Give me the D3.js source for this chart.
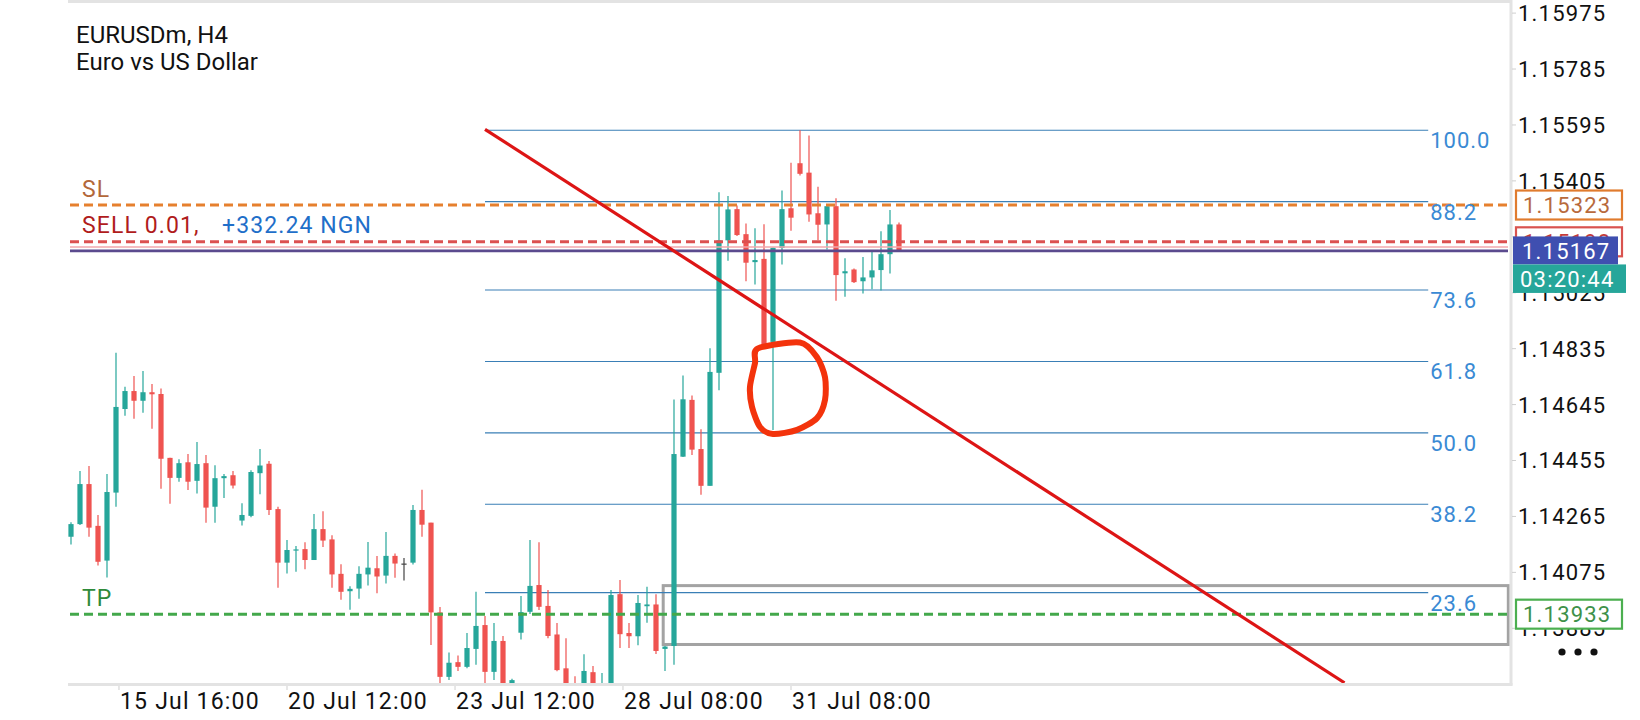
<!DOCTYPE html>
<html><head><meta charset="utf-8">
<script src="https://cdn.jsdelivr.net/npm/d3@7"></script>
<style>
body{margin:0;background:#fff}
svg{display:block}
text{font-family:Roboto,"Noto Sans",sans-serif}
</style>
</head><body>
<svg id="c" width="1640" height="720"></svg>
<script>
// ---- data (H4 bars, index 0..92) ----
const opens  = [1.14196,1.14239,1.14375,1.14233,1.14115,1.14346,1.14630,1.14691,1.14658,1.14687,
1.14681,1.14464,1.14396,1.14449,1.14386,1.14446,1.14298,1.14395,1.14405,1.14251,
1.14267,1.14412,1.14444,1.14290,1.14108,1.14150,1.14154,1.14117,1.14222,1.14187,
1.14070,1.14011,1.14020,1.14068,1.14089,1.14064,1.14131,1.14105,1.14108,1.14287,
1.14244,1.13939,1.13720,1.13770,1.13754,1.13815,1.13896,1.13737,1.13842,1.13641,
1.13870,1.13941,1.14032,1.13961,1.13864,1.13749,1.13675,1.13641,1.13736,1.13624,
1.13661,1.14001,1.13869,1.13858,1.13960,1.13966,1.13815,1.13825,1.14468,1.14661,
1.14494,1.14369,1.14753,1.15203,1.15309,1.15224,1.15129,1.15140,1.14858,1.15177,
1.15312,1.15465,1.15433,1.15295,1.15257,1.15319,1.15091,1.15104,1.15064,1.15077,
1.15102,1.15156,1.15257];
const highs  = [1.14245,1.14419,1.14436,1.14270,1.14409,1.14821,1.14706,1.14742,1.14759,1.14715,
1.14700,1.14464,1.14459,1.14477,1.14518,1.14474,1.14439,1.14409,1.14419,1.14310,
1.14422,1.14494,1.14453,1.14298,1.14185,1.14165,1.14177,1.14273,1.14283,1.14201,
1.14103,1.14028,1.14096,1.14178,1.14131,1.14212,1.14139,1.14124,1.14304,1.14356,
1.14244,1.13957,1.13803,1.13793,1.13869,1.14009,1.13927,1.13903,1.13859,1.13714,
1.13995,1.14185,1.14177,1.14015,1.13903,1.13851,1.13722,1.13797,1.13757,1.13733,
1.14015,1.14049,1.13903,1.13998,1.14026,1.14001,1.13825,1.14662,1.14744,1.14676,
1.14561,1.14836,1.15366,1.15354,1.15321,1.15260,1.15244,1.15258,1.15179,1.15372,
1.15467,1.15577,1.15559,1.15385,1.15323,1.15346,1.15142,1.15107,1.15146,1.15170,
1.15234,1.15306,1.15264];
const lows   = [1.14170,1.14236,1.14196,1.14098,1.14058,1.14298,1.14607,1.14597,1.14617,1.14563,
1.14359,1.14308,1.14383,1.14355,1.14343,1.14244,1.14244,1.14328,1.14360,1.14234,
1.14262,1.14340,1.14270,1.14023,1.14071,1.14077,1.14086,1.14117,1.14161,1.14023,
1.13982,1.13948,1.13985,1.14030,1.14004,1.14037,1.14057,1.14047,1.14102,1.14196,
1.13828,1.13689,1.13709,1.13740,1.13749,1.13761,1.13521,1.13709,1.13662,1.13624,
1.13847,1.13934,1.13947,1.13851,1.13739,1.13641,1.13600,1.13624,1.13624,1.13600,
1.13641,1.13818,1.13818,1.13827,1.13904,1.13798,1.13740,1.13761,1.14467,1.14474,
1.14339,1.14369,1.14694,1.15134,1.15218,1.15064,1.15053,1.14846,1.14559,1.15121,
1.15236,1.15423,1.15266,1.15203,1.15172,1.14998,1.15011,1.15058,1.15022,1.15037,
1.15033,1.15090,1.15165];
const closes = [1.14239,1.14375,1.14227,1.14111,1.14348,1.14637,1.14691,1.14658,1.14687,1.14680,
1.14461,1.14396,1.14446,1.14383,1.14443,1.14295,1.14395,1.14402,1.14370,1.14270,
1.14416,1.14438,1.14287,1.14108,1.14151,1.14153,1.14117,1.14222,1.14183,1.14068,
1.14009,1.14019,1.14070,1.14091,1.14061,1.14131,1.14105,1.14105,1.14287,1.14237,
1.13939,1.13720,1.13768,1.13754,1.13818,1.13893,1.13737,1.13842,1.13689,1.13709,
1.13940,1.14029,1.13958,1.13859,1.13743,1.13661,1.13624,1.13740,1.13641,1.13675,
1.13998,1.13865,1.13858,1.13971,1.13966,1.13808,1.13823,1.14477,1.14663,1.14492,
1.14369,1.14756,1.15203,1.15308,1.15221,1.15127,1.15136,1.14846,1.15178,1.15309,
1.15280,1.15429,1.15291,1.15256,1.15319,1.15085,1.15098,1.15061,1.15077,1.15101,
1.15156,1.15257,1.15167];

const priceTicks = [1.15975,1.15785,1.15595,1.15405,1.15215,1.15025,1.14835,1.14645,1.14455,1.14265,1.14075,1.13885];
const timeLabels = ["15 Jul 16:00","20 Jul 12:00","23 Jul 12:00","28 Jul 08:00","31 Jul 08:00"];
const timeLabelBars = [5.33, 24, 42.67, 61.33, 80];

const fibLevels = [0, 23.6, 38.2, 50.0, 61.8, 73.6, 88.2, 100.0];
const fibLow = 1.13521, fibHigh = 1.15577;
const fibBars = [46, 150.8];

const slPrice = 1.15323, tpPrice = 1.13933, entryPrice = 1.15198;
const bidPrice = 1.15167, askPrice = 1.15180;
const countdown = "03:20:44";
const orderText = "SELL 0.01,", profitText = "+332.24 NGN";

const trendBars = [46, 141.5], trendPrices = [1.15580, 1.13700];
const zoneBars = [65.8, 159.7], zonePrices = [1.14030, 1.13830];
const circleBars   = [76.33, 81.0, 82.89, 83.78, 83.78, 82.89, 80.67, 78.0, 76.56, 75.67, 75.44, 76.0];
const circlePrices = [1.14836,1.14856,1.14806,1.14738,1.14661,1.14599,1.14559,1.14545,1.14569,1.14637,1.14705,1.14786];

// ---- layout ----
const P = {left:68, right:1511, top:3, bottom:684};
const x = d3.scaleLinear().domain([0,160]).range([71,1511]);
const y = d3.scaleLinear().domain([1.13885,1.15975]).range([628.3,13.1]);

const svg = d3.select("#c");
svg.append("rect").attr("width",1640).attr("height",720).attr("fill","#fff");
svg.append("defs").append("clipPath").attr("id","clip")
  .append("rect").attr("x",P.left).attr("y",P.top).attr("width",P.right-P.left).attr("height",P.bottom-P.top);

const plot = svg.append("g").attr("clip-path","url(#clip)");

// zone rectangle
plot.append("rect")
  .attr("x",x(zoneBars[0])).attr("y",y(zonePrices[0]))
  .attr("width",x(zoneBars[1])-x(zoneBars[0])).attr("height",y(zonePrices[1])-y(zonePrices[0]))
  .attr("fill","none").attr("stroke","#a3a3a3").attr("stroke-width",3);

// fib lines
const fibPrice = l => fibLow + (fibHigh-fibLow)*l/100;
plot.selectAll(".fib").data(fibLevels).join("line")
  .attr("x1",x(fibBars[0])).attr("x2",x(fibBars[1]))
  .attr("y1",d=>y(fibPrice(d))).attr("y2",d=>y(fibPrice(d)))
  .attr("stroke","#3a7fb6").attr("stroke-width",1.1);

// candles
const bars = d3.range(opens.length).map(i=>({i,o:opens[i],h:highs[i],l:lows[i],c:closes[i]}));
const col = d => d.c>d.o ? "#26a69a" : (d.c<d.o ? "#ef5350" : "#444");
const cg = plot.append("g");
cg.selectAll(".w").data(bars).join("line")
  .attr("x1",d=>x(d.i)).attr("x2",d=>x(d.i))
  .attr("y1",d=>y(d.h)).attr("y2",d=>y(d.l))
  .attr("stroke",col).attr("stroke-width",1.2);
cg.selectAll(".b").data(bars).join("rect")
  .attr("x",d=>x(d.i)-2.6).attr("width",5.2)
  .attr("y",d=>y(Math.max(d.o,d.c)))
  .attr("height",d=>Math.max(1.2, Math.abs(y(d.o)-y(d.c))))
  .attr("fill",col);

// trade lines
function hline(price,color,w,dash){
  plot.append("line").attr("x1",P.left+2).attr("x2",P.right-3)
    .attr("y1",y(price)).attr("y2",y(price))
    .attr("stroke",color).attr("stroke-width",w)
    .attr("stroke-dasharray",dash||null);
}
hline(askPrice,"#f2a7ad",1.5);
hline(bidPrice,"#5b4b8e",2.8);
hline(slPrice,"#e6802e",3,"9,5");
hline(entryPrice,"#dc5050",3,"9,5");
hline(tpPrice,"#43a84b",3,"9,5");

// trend line
plot.append("line")
  .attr("x1",x(trendBars[0])).attr("y1",y(trendPrices[0]))
  .attr("x2",x(trendBars[1])).attr("y2",y(trendPrices[1]))
  .attr("stroke","#dd1515").attr("stroke-width",3.2);

// hand-drawn circle
const cpts = circleBars.map((b,k)=>[x(b),y(circlePrices[k])]);
plot.append("path").attr("d",d3.line().curve(d3.curveCardinalClosed.tension(0.2))(cpts))
  .attr("fill","none").attr("stroke","#f3330c").attr("stroke-width",6).attr("stroke-linecap","round");

// fib labels
svg.selectAll(".fl").data(fibLevels.filter(l=>y(fibPrice(l))<P.bottom)).join("text")
  .attr("x",x(fibBars[1])+2).attr("y",d=>y(fibPrice(d))+18)
  .attr("fill","#3a8ad4").attr("font-size",22).style("letter-spacing","1px")
  .text(d=>d.toFixed(1));

// frame
const frame = svg.append("g").attr("stroke","#e3e3e3").attr("stroke-width",3);
frame.append("line").attr("x1",P.left).attr("x2",P.right).attr("y1",1.5).attr("y2",1.5);
frame.append("line").attr("x1",P.right).attr("x2",P.right).attr("y1",0).attr("y2",P.bottom+1.5);
frame.append("line").attr("x1",P.left).attr("x2",P.right+1.5).attr("y1",P.bottom+0.5).attr("y2",P.bottom+0.5);

// price axis
svg.selectAll(".pt").data(priceTicks).join("line")
  .attr("x1",P.right+1).attr("x2",P.right+5).attr("y1",d=>y(d)).attr("y2",d=>y(d))
  .attr("stroke","#cfcfcf").attr("stroke-width",1);
svg.selectAll(".pl").data(priceTicks).join("text")
  .attr("x",1518).attr("y",d=>y(d)).attr("dy","0.36em")
  .attr("font-size",22).style("letter-spacing","1.2px").attr("fill","#111")
  .text(d=>d.toFixed(5));

// time axis
svg.selectAll(".tt").data(timeLabelBars).join("line")
  .attr("x1",d=>x(d)).attr("x2",d=>x(d)).attr("y1",P.bottom+2).attr("y2",P.bottom+6)
  .attr("stroke","#cfcfcf").attr("stroke-width",1);
svg.selectAll(".tl").data(timeLabels).join("text")
  .attr("x",(d,k)=>x(timeLabelBars[k])+1).attr("y",709)
  .attr("font-size",23).style("letter-spacing","1.2px").attr("fill","#111")
  .text(d=>d);

// title
svg.append("text").attr("x",76).attr("y",43).attr("font-size",23).attr("fill","#111")
  .attr("textLength",152).attr("lengthAdjust","spacingAndGlyphs").text("EURUSDm, H4");
svg.append("text").attr("x",76).attr("y",70).attr("font-size",23).attr("fill","#111")
  .attr("textLength",182).attr("lengthAdjust","spacingAndGlyphs").text("Euro vs US Dollar");

// line labels
svg.append("text").attr("x",82).attr("y",y(slPrice)-8).attr("font-size",23).attr("fill","#b3683a")
  .style("letter-spacing","1px").text("SL");
svg.append("text").attr("x",82).attr("y",y(tpPrice)-8).attr("font-size",23).attr("fill","#2f8a3a")
  .style("letter-spacing","1px").text("TP");
svg.append("text").attr("x",82).attr("y",y(entryPrice)-9).attr("font-size",23).attr("fill","#b01c1c")
  .style("letter-spacing","1.1px").text(orderText);
svg.append("text").attr("x",222).attr("y",y(entryPrice)-9).attr("font-size",23).attr("fill","#1f6fc9")
  .style("letter-spacing","1.1px").text(profitText);

// right side boxes
function box(price,x0,x1,h,stroke,fill,txt,tcol){
  const cy = y(price);
  svg.append("rect").attr("x",x0).attr("y",cy-h/2).attr("width",x1-x0).attr("height",h)
    .attr("fill",fill).attr("stroke",stroke||"none").attr("stroke-width",stroke?2.2:0);
  svg.append("text").attr("x",x0+7).attr("y",cy).attr("dy","0.36em").attr("font-size",22)
    .style("letter-spacing","1.2px").attr("fill",tcol).text(txt);
}
box(slPrice,1516,1622,29,"#e07b2e","#fff",slPrice.toFixed(5),"#b86a3c");
box(entryPrice,1516,1622,29,"#d9534f","#fff",entryPrice.toFixed(5),"#c53a3a");
box(tpPrice,1516,1622,29,"#4caf50","#fff",tpPrice.toFixed(5),"#3e9149");
// bid & countdown
const by = y(bidPrice);
svg.append("rect").attr("x",1513).attr("y",by-14.5).attr("width",105).attr("height",28).attr("fill","#3f4fb0");
svg.append("text").attr("x",1522).attr("y",by).attr("dy","0.36em").attr("font-size",22)
  .style("letter-spacing","1.2px").attr("fill","#fff").text(bidPrice.toFixed(5));
svg.append("rect").attr("x",1513).attr("y",by+13.5).attr("width",113).attr("height",28.5).attr("fill","#26a69a");
svg.append("text").attr("x",1520).attr("y",by+28).attr("dy","0.36em").attr("font-size",22)
  .style("letter-spacing","1.2px").attr("fill","#fff").text(countdown);

// menu dots
svg.selectAll(".dot").data([0,1,2]).join("circle")
  .attr("cx",d=>1562+d*16).attr("cy",652).attr("r",3.6).attr("fill","#111");
</script>
</body></html>
